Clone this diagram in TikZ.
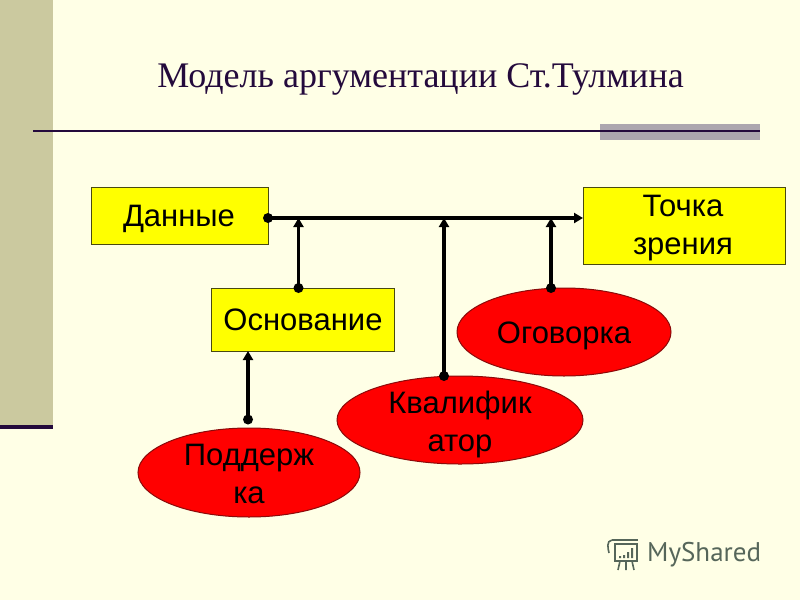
\documentclass[tikz,border=0pt]{standalone}
\usepackage{fontspec}
\setmainfont{Liberation Sans}
\newfontfamily\titlefont{Liberation Serif}
\newfontfamily\markfont{PT Sans}
\usetikzlibrary{shapes.geometric,arrows.meta}
\definecolor{pagebg}{HTML}{FFFFE6}
\definecolor{bandc}{HTML}{CBC99F}
\definecolor{deep}{HTML}{240A3C}
\definecolor{barc}{HTML}{ACA6AE}
\definecolor{edgeY}{HTML}{4A4A10}
\definecolor{edgeR}{HTML}{8A0A0A}
\definecolor{markc}{HTML}{56665A}
\definecolor{boxfill}{HTML}{FFFF00}
\definecolor{ovalfill}{HTML}{FF0000}
\tikzset{
  x=1pt,y=-1pt,
  boxy/.style={draw=edgeY,line width=1pt,fill=boxfill,inner sep=0pt,anchor=north west},
  oval/.style={ellipse,draw=edgeR,line width=1pt,fill=ovalfill,inner sep=0pt},
  lab/.style={inner sep=0pt,align=center,font=\fontsize{31}{38}\selectfont},
  link/.style={line width=3.4pt,draw=black,-{Triangle[length=9pt,width=10pt]},shorten >=0pt},
  dotmark/.style={circle,fill=black,inner sep=0pt,minimum size=10pt},
  iconline/.style={draw=markc,line width=1.6pt}
}
\begin{document}
\begin{tikzpicture}
\useasboundingbox (0,0) rectangle (800,600);
\fill[pagebg] (0,0) rectangle (800,600);
\fill[bandc] (0,0) rectangle (53,425);
\fill[deep] (0,425) rectangle (53,429);
\fill[barc] (600,124) rectangle (760,140);
\draw[deep,line width=1.5pt] (33,131) -- (760,131);
\node[font=\titlefont\fontsize{36}{40}\selectfont,text=deep,inner sep=0pt] (title) at (420.5,79) {Модель аргументации Ст.Тулмина};

\node[boxy,minimum width=176.5pt,minimum height=56.5pt] (dan) at (91,187) {};
\node[boxy,minimum width=182.5pt,minimum height=62.5pt] (osn) at (211,288) {};
\node[boxy,minimum width=201.5pt,minimum height=76.5pt] (toc) at (583,187) {};
\node[oval,minimum width=222pt,minimum height=89pt] (pod) at (249,472.5) {};
\node[oval,minimum width=246pt,minimum height=88pt] (kva) at (460,420) {};
\node[oval,minimum width=214pt,minimum height=88pt] (ogo) at (564,332) {};

\node[lab] (danT) at (179,219) {Данные};
\node[lab] (osnT) at (303,320) {Основание};
\node[lab] (tocT) at (683,228.5) {Точка\\зрения};
\node[lab] (podT) at (249,474) {Поддерж\\ка};
\node[lab] (kvaT) at (460,424.5) {Квалифик\\атор};
\node[lab] (ogoT) at (564,336) {Оговорка};

\coordinate (busS) at (268,218);
\coordinate (busE) at (583,218);
\coordinate (osnS) at (298.5,288);
\coordinate (osnE) at (298.5,218);
\coordinate (kvaS) at (444,376);
\coordinate (kvaE) at (444,218);
\coordinate (ogoS) at (551,288);
\coordinate (ogoE) at (551,218);
\coordinate (podS) at (248,419.5);
\coordinate (podE) at (248,351);

\draw[link] (busS) -- (busE);
\draw[link] (osnS) -- (osnE);
\draw[link] (kvaS) -- (kvaE);
\draw[link] (ogoS) -- (ogoE);
\draw[link] (podS) -- (podE);
\foreach \p in {busS,osnS,kvaS,ogoS,podS} \node[dotmark] at (\p) {};

\node[font=\markfont\fontsize{27}{30}\selectfont,text=markc,anchor=west,inner sep=0pt] (mark) at (647,555) {MyShared};
\draw[iconline] (612,540) -- (638,540) (615,544) rectangle (637,561);
\draw[iconline] (612,540) .. controls (606,541) and (608,548) .. (609,553);
\draw[iconline] (620,561) -- (618,570) (626,561) -- (626,570) (632,561) -- (634,570);
\fill[markc] (619,556) rectangle (621,558) (623,555) rectangle (625,558) (627,552) rectangle (629,558) (631,548) rectangle (633,558);
\end{tikzpicture}
\end{document}
